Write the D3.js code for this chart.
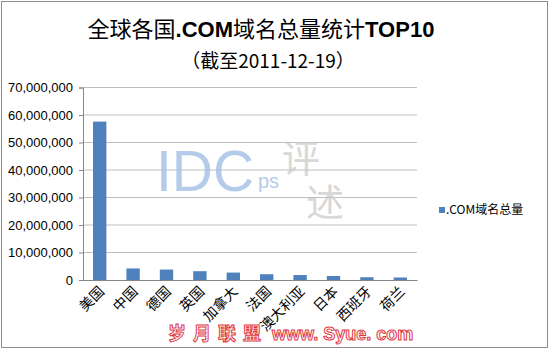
<!DOCTYPE html>
<html>
<head>
<meta charset="utf-8">
<script src="https://cdn.jsdelivr.net/npm/d3@7"></script>
<style>
  body { margin: 0; background: #fff; }
  svg { display: block; }
</style>
</head>
<body>
<svg width="550" height="350"></svg>
<script>
// data
var countries = ["美国", "中国", "德国", "英国", "加拿大", "法国", "澳大利亚", "日本", "西班牙", "荷兰"];
var comTotals = [57600000, 4200000, 3800000, 3200000, 2700000, 2100000, 1800000, 1450000, 1000000, 900000];
var yTicks = [0, 10000000, 20000000, 30000000, 40000000, 50000000, 60000000, 70000000];
var seriesName = ".COM域名总量";

var svg = d3.select("svg"),
    width = +svg.attr("width"),
    height = +svg.attr("height");

var cjk = "'Noto Sans CJK SC', sans-serif";
var latin = "'Liberation Sans', Arial, sans-serif";

// frame
svg.append("rect")
    .attr("x", 1.5).attr("y", 1.5)
    .attr("width", width - 4).attr("height", height - 4)
    .attr("fill", "#fff")
    .attr("stroke", "#8c8c8c");

// titles
var title = svg.append("text")
    .attr("x", 261).attr("y", 37)
    .attr("text-anchor", "middle")
    .style("font-size", "22px")
    .style("font-family", cjk)
    .attr("fill", "#000");
title.append("tspan").text("全球各国");
title.append("tspan").style("font-weight", "bold").style("font-family", latin).text(".COM");
title.append("tspan").text("域名总量统计");
title.append("tspan").style("font-weight", "bold").style("font-family", latin).text("TOP10");

svg.append("text")
    .attr("x", 268).attr("y", 68)
    .attr("text-anchor", "middle")
    .style("font-size", "19px")
    .style("font-family", cjk)
    .attr("fill", "#000")
    .text("（截至2011-12-19）");

var plotLeft = 83, plotRight = 417, plotTop = 87.5, plotBottom = 280;

var x = d3.scaleBand()
    .domain(countries)
    .range([plotLeft, plotRight])
    .paddingInner(0.6)
    .paddingOuter(0.3);

var y = d3.scaleLinear()
    .domain([0, 70000000])
    .range([plotBottom, plotTop]);

// gridlines
svg.append("g")
    .selectAll("line")
    .data(yTicks.slice(1))
    .enter()
    .append("line")
        .attr("x1", plotLeft).attr("x2", plotRight)
        .attr("y1", d => y(d)).attr("y2", d => y(d))
        .attr("stroke", "#bfbfbf");

// y axis
var yAxis = svg.append("g")
    .attr("transform", "translate(" + plotLeft + ",0)")
    .call(d3.axisLeft(y).tickValues(yTicks).tickSize(4).tickFormat(d3.format(",")));
yAxis.select(".domain").attr("stroke", "#868686");
yAxis.selectAll(".tick line").attr("stroke", "#868686");
yAxis.selectAll("text")
    .attr("x", -10)
    .style("font-family", latin)
    .style("font-size", "13px")
    .attr("fill", "#000");

// x axis
var xAxis = svg.append("g")
    .attr("transform", "translate(0," + plotBottom + ")")
    .call(d3.axisBottom(x).tickSize(0));
xAxis.select(".domain").attr("stroke", "#868686");
xAxis.selectAll("text")
    .style("font-family", cjk)
    .style("font-size", "14px")
    .attr("fill", "#000")
    .attr("text-anchor", "end")
    .attr("y", 0)
    .attr("dy", "0.35em")
    .attr("transform", "translate(2,9) rotate(-45)");

// watermark
svg.append("text")
    .attr("x", 156).attr("y", 191)
    .style("font-family", latin)
    .style("font-size", "57px")
    .attr("fill", "#a2c0e6")
    .attr("opacity", 0.8)
    .text("IDC");
svg.append("text")
    .attr("x", 258).attr("y", 188)
    .style("font-family", latin)
    .style("font-size", "20px")
    .attr("fill", "#a2c0e6")
    .attr("opacity", 0.8)
    .text("ps");
svg.append("text")
    .attr("x", 282).attr("y", 172)
    .style("font-family", cjk)
    .style("font-size", "38px")
    .attr("fill", "#c8c8c8")
    .attr("opacity", 0.7)
    .text("评");
svg.append("text")
    .attr("x", 306).attr("y", 216)
    .style("font-family", cjk)
    .style("font-size", "38px")
    .attr("fill", "#c8c8c8")
    .attr("opacity", 0.7)
    .text("述");

// bars
svg.append("g")
    .selectAll("rect")
    .data(countries)
    .enter()
    .append("rect")
        .attr("x", d => x(d))
        .attr("y", (d, i) => y(comTotals[i]))
        .attr("width", x.bandwidth())
        .attr("height", (d, i) => plotBottom - y(comTotals[i]))
        .attr("fill", "#4f81bd");

// legend
svg.append("rect")
    .attr("x", 439).attr("y", 207)
    .attr("width", 6).attr("height", 6)
    .attr("fill", "#4f81bd");
svg.append("text")
    .attr("x", 446).attr("y", 214)
    .style("font-family", cjk)
    .style("font-size", "12px")
    .attr("fill", "#000")
    .text(seriesName);

// footer watermark
svg.append("text")
    .attr("x", 168).attr("y", 340)
    .style("font-family", cjk)
    .style("font-size", "18px")
    .style("font-weight", "bold")
    .attr("fill", "#fff")
    .attr("stroke", "#e0383f")
    .attr("stroke-width", 1)
    .attr("letter-spacing", "7px")
    .text("岁月联盟");
svg.append("text")
    .attr("x", 272).attr("y", 340)
    .style("font-family", latin)
    .style("font-size", "18px")
    .style("font-weight", "bold")
    .attr("fill", "#fff")
    .attr("stroke", "#e0383f")
    .attr("stroke-width", 1)
    .text("www. Syue. com");
</script>
</body>
</html>
